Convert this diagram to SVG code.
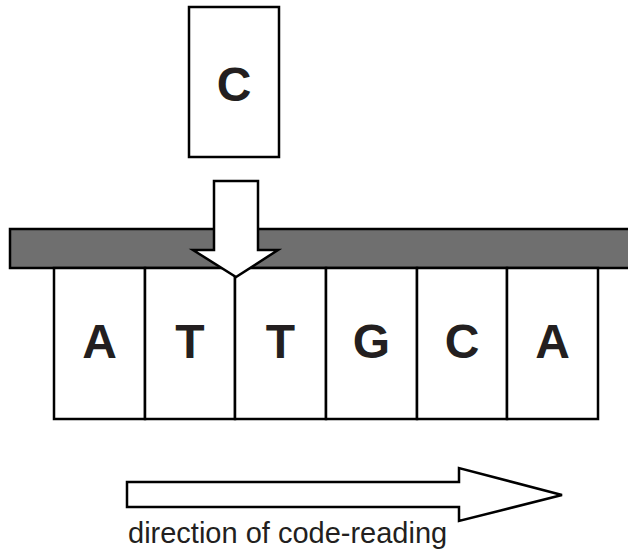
<svg xmlns="http://www.w3.org/2000/svg" width="628" height="556" viewBox="0 0 628 556">
<style>
.box{fill:#fff;stroke:#000;stroke-width:2.5}
.bar{fill:#6f6f6f;stroke:#000;stroke-width:2.5}
.arrow{fill:#fff;stroke:#000;stroke-width:2.5;stroke-linejoin:miter}
.big{font-family:"Liberation Sans",Arial,sans-serif;font-weight:bold;font-size:48px;fill:#231f20;text-anchor:middle}
.cap{font-family:"Liberation Sans",Arial,sans-serif;font-size:29px;fill:#231f20}
</style>
<rect width="628" height="556" fill="#fff"/>
<g id="incoming">
<rect class="box" x="189" y="7" width="90" height="150"/>
<text class="big" x="234" y="101">C</text>
</g>
<g id="bar">
<rect class="bar" x="10" y="229" width="630" height="39"/>
</g>
<g id="cells">
<g id="cell1"><rect class="box" x="54" y="268" width="91" height="151"/><text class="big" x="99.5" y="358">A</text></g>
<g id="cell2"><rect class="box" x="145" y="268" width="90" height="151"/><text class="big" x="190" y="358">T</text></g>
<g id="cell3"><rect class="box" x="235" y="268" width="91" height="151"/><text class="big" x="280.5" y="358">T</text></g>
<g id="cell4"><rect class="box" x="326" y="268" width="91" height="151"/><text class="big" x="371.5" y="358">G</text></g>
<g id="cell5"><rect class="box" x="417" y="268" width="90" height="151"/><text class="big" x="462" y="358">C</text></g>
<g id="cell6"><rect class="box" x="507" y="268" width="91" height="151"/><text class="big" x="552.5" y="358">A</text></g>
</g>
<g id="connectors">
<polygon class="arrow" points="214,181 258,181 258,250 278,250 236,277 193,250 214,250"/>
<polygon class="arrow" points="127,482 459,482 459,468 562,495 459,521 459,507 127,507"/>
</g>
<g id="label">
<text class="cap" x="128" y="543">direction of code-reading</text>
</g>
</svg>
